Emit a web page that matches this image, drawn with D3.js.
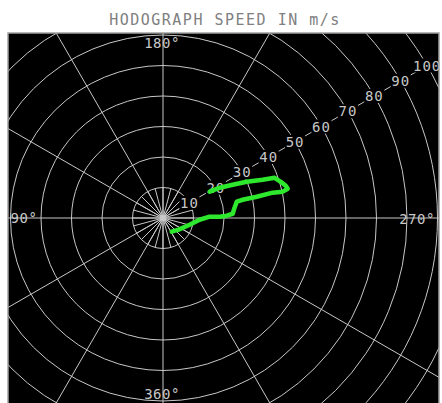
<!DOCTYPE html>
<html>
<head>
<meta charset="utf-8">
<script src="https://cdn.jsdelivr.net/npm/d3@7"></script>
<style>
  html, body { margin: 0; padding: 0; background: #fff; }
  svg { display: block; }
</style>
</head>
<body>
<div id="chart"></div>
<script>
const title = 'HODOGRAPH SPEED IN m/s';

// wind direction (deg) and speed (m/s) of the hodograph trace
const directions = [327.6, 306.7, 284.1, 272.7, 268.4, 268.7, 267.9, 266.5, 261.8, 257.5,
                    257.1, 257.2, 257.0, 257.6, 256.8, 255.3, 252.9, 250.2, 249.0, 246.6,
                    244.5, 241.9, 240.6];
const speeds     = [5.3, 6.4, 9.0, 12.0, 15.3, 18.6, 20.9, 22.9, 23.7, 24.8,
                    26.8, 31.5, 36.9, 40.2, 42.0, 41.6, 40.4, 38.9, 35.0, 29.9,
                    25.3, 21.1, 17.6];

const ringSpeeds  = [10, 20, 30, 40, 50, 60, 70, 80, 90, 100];
const spokeAngles = d3.range(0, 360, 30);
const innerAngles = d3.range(0, 360, 15);
const dirLabels   = [{ dir: 90, text: '90°' }, { dir: 180, text: '180°' },
                     { dir: 270, text: '270°' }, { dir: 360, text: '360°' }];
const labelDir = 240;

const width = 442, height = 403;
const cx = 163, cy = 218;
const frame = { x: 8, y: 33, w: 431, h: 380 };
const grid = '#c8c8c8';

const r = d3.scaleLinear().domain([0, 100]).range([0, 305]);

// meteorological direction -> screen (180 up, 270 right)
function pos(dir, spd) {
  const a = dir * Math.PI / 180;
  return [cx - r(spd) * Math.sin(a), cy + r(spd) * Math.cos(a)];
}

const svg = d3.select('#chart').append('svg')
  .attr('width', width)
  .attr('height', height);

svg.append('text')
  .attr('x', 225)
  .attr('y', 25)
  .attr('text-anchor', 'middle')
  .attr('font-family', 'DejaVu Sans Mono')
  .attr('font-size', '15px')
  .attr('letter-spacing', '1.5px')
  .attr('fill', '#808080')
  .text(title);

svg.append('clipPath').attr('id', 'clip')
  .append('rect')
  .attr('x', frame.x).attr('y', frame.y)
  .attr('width', frame.w).attr('height', frame.h);

svg.append('rect')
  .attr('x', frame.x).attr('y', frame.y)
  .attr('width', frame.w).attr('height', frame.h)
  .attr('fill', '#000');

const g = svg.append('g').attr('clip-path', 'url(#clip)');

g.selectAll('.ring')
  .data(ringSpeeds)
  .enter().append('circle')
  .attr('cx', cx).attr('cy', cy)
  .attr('r', d => r(d))
  .attr('fill', 'none')
  .attr('stroke', grid)
  .attr('stroke-width', 1);

g.selectAll('.spoke')
  .data(spokeAngles)
  .enter().append('line')
  .attr('x1', cx).attr('y1', cy)
  .attr('x2', d => pos(d, 120)[0])
  .attr('y2', d => pos(d, 120)[1])
  .attr('stroke', grid)
  .attr('stroke-width', 1);

g.selectAll('.inner')
  .data(innerAngles)
  .enter().append('line')
  .attr('x1', cx).attr('y1', cy)
  .attr('x2', d => pos(d, 10)[0])
  .attr('y2', d => pos(d, 10)[1])
  .attr('stroke', grid)
  .attr('stroke-width', 1);

g.append('circle')
  .attr('cx', cx).attr('cy', cy).attr('r', 2.5)
  .attr('fill', grid);

// speed labels along the 240 deg spoke
ringSpeeds.forEach(s => {
  const [x, y] = pos(labelDir, s);
  const w = String(s).length * 9 + 2;
  g.append('rect')
    .attr('x', x - w / 2).attr('y', y - 7)
    .attr('width', w).attr('height', 14)
    .attr('fill', '#000');
  g.append('text')
    .attr('x', x).attr('y', y + 5)
    .attr('text-anchor', 'middle')
    .attr('font-family', 'DejaVu Sans Mono')
    .attr('font-size', '14px')
    .attr('letter-spacing', '1px')
    .attr('fill', grid)
    .text(s);
});

const labelPos = {
  90:  { x: 24,  y: 223 },
  180: { x: 162, y: 48 },
  270: { x: 417, y: 224 },
  360: { x: 162, y: 399 }
};
g.selectAll('.dirlab')
  .data(dirLabels)
  .enter().append('text')
  .attr('x', d => labelPos[d.dir].x)
  .attr('y', d => labelPos[d.dir].y)
  .attr('text-anchor', 'middle')
  .attr('font-family', 'DejaVu Sans Mono')
  .attr('font-size', '14px')
  .attr('letter-spacing', '0.5px')
  .attr('fill', grid)
  .text(d => d.text);

const trace = directions.map((d, i) => pos(d, speeds[i]));
g.append('path')
  .attr('d', d3.line().curve(d3.curveLinear)(trace))
  .attr('fill', 'none')
  .attr('stroke', '#2ee82e')
  .attr('stroke-width', 4.5)
  .attr('stroke-linejoin', 'round')
  .attr('stroke-linecap', 'round');

svg.append('rect')
  .attr('x', frame.x).attr('y', frame.y)
  .attr('width', frame.w).attr('height', frame.h)
  .attr('fill', 'none')
  .attr('stroke', '#a0a0a0')
  .attr('stroke-width', 1.5);
</script>
</body>
</html>
